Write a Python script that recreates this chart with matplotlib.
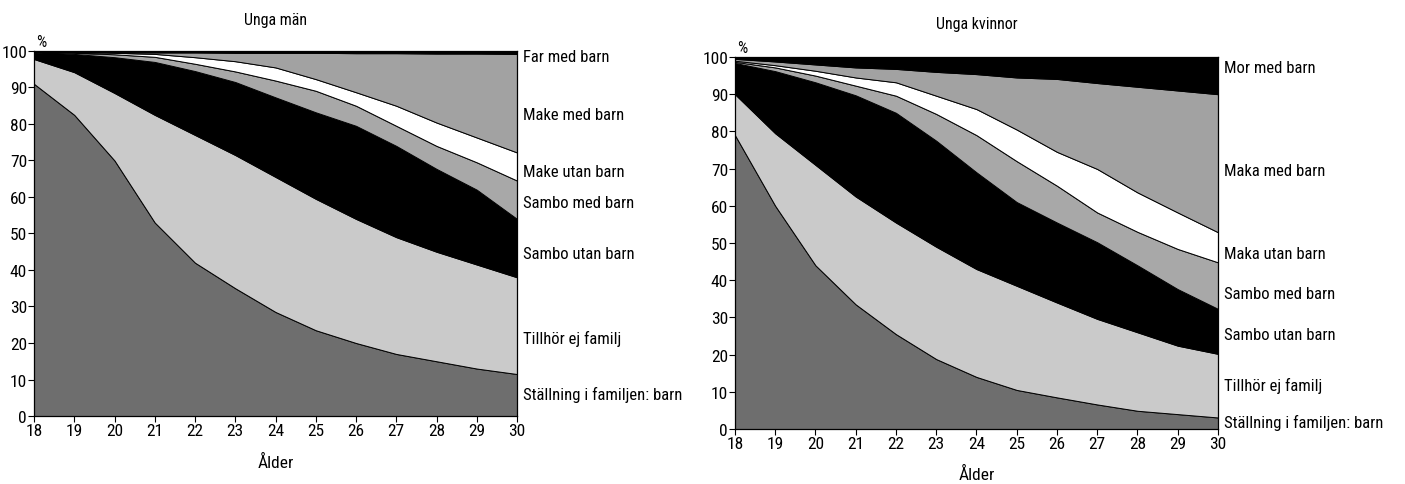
import numpy as np
import matplotlib
matplotlib.use('Agg')
import matplotlib.pyplot as plt
from matplotlib import font_manager

# pick a narrow font if one is there
names = {f.name for f in font_manager.fontManager.ttflist}
for cand in ['Liberation Sans Narrow', 'Roboto Condensed', 'Open Sans Condensed', 'DejaVu Sans']:
    if cand in names:
        FONT = cand
        break
plt.rcParams['font.family'] = [FONT, 'DejaVu Sans']
if FONT == 'DejaVu Sans':
    plt.rcParams['font.stretch'] = 'condensed'

ages = list(range(18, 31))
age_ticks = list(range(18, 31))
pct_ticks = list(range(0, 101, 10))

# Unga män, share in % per age (bottom layer first)
men_barn     = [91.0, 82.5, 70.0, 53.0, 42.0, 35.0, 28.5, 23.5, 20.0, 17.0, 15.0, 13.0, 11.5]
men_tillhor  = [6.8, 11.7, 18.5, 29.5, 35.0, 36.5, 37.0, 36.0, 34.0, 32.0, 30.0, 28.5, 26.5]
men_sambo_u  = [1.8, 5.0, 9.8, 14.5, 17.5, 20.0, 21.8, 23.7, 25.5, 25.0, 22.7, 20.5, 16.0]
men_sambo_m  = [0.1, 0.3, 0.8, 1.4, 2.0, 2.9, 4.6, 5.9, 5.5, 5.5, 6.3, 7.5, 10.5]
men_make_u   = [0.1, 0.2, 0.4, 0.8, 1.8, 2.8, 3.6, 3.2, 3.7, 5.5, 6.4, 6.8, 7.7]
men_make_m   = [0.0, 0.1, 0.2, 0.4, 1.3, 2.3, 4.0, 7.2, 10.7, 14.4, 18.9, 23.0, 27.0]
men_far      = [0.2, 0.2, 0.3, 0.4, 0.4, 0.5, 0.5, 0.5, 0.6, 0.6, 0.7, 0.7, 0.8]

# Unga kvinnor
wom_barn     = [79.0, 60.0, 44.0, 33.5, 25.5, 18.8, 14.0, 10.5, 8.5, 6.6, 4.9, 4.0, 3.1]
wom_tillhor  = [11.0, 19.5, 27.0, 29.0, 30.0, 30.2, 29.0, 28.0, 25.5, 23.0, 21.1, 18.4, 17.1]
wom_sambo_u  = [8.4, 16.7, 22.2, 27.2, 29.5, 28.5, 26.0, 22.5, 21.5, 20.6, 18.0, 15.2, 12.1]
wom_sambo_m  = [0.3, 1.0, 1.8, 2.6, 4.6, 7.2, 10.0, 11.0, 9.9, 8.0, 9.0, 10.8, 12.5]
wom_maka_u   = [0.3, 0.6, 1.3, 2.2, 3.6, 4.9, 7.0, 8.5, 9.1, 11.7, 10.6, 9.8, 8.1]
wom_maka_m   = [0.5, 1.0, 1.7, 2.7, 3.6, 6.4, 9.4, 14.0, 19.6, 23.1, 28.4, 32.8, 37.1]
wom_mor      = [0.5, 1.2, 2.0, 2.8, 3.2, 4.0, 4.6, 5.5, 5.9, 7.0, 8.0, 9.0, 10.0]

men_labels = ['Ställning i familjen: barn', 'Tillhör ej familj', 'Sambo utan barn',
              'Sambo med barn', 'Make utan barn', 'Make med barn', 'Far med barn']
wom_labels = ['Ställning i familjen: barn', 'Tillhör ej familj', 'Sambo utan barn',
              'Sambo med barn', 'Maka utan barn', 'Maka med barn', 'Mor med barn']
men_label_y = [6.0, 21.4, 44.4, 58.6, 67.0, 82.7, 98.4]
wom_label_y = [1.9, 11.8, 25.5, 36.3, 47.3, 69.4, 97.3]

colors = ['#6e6e6e', '#cacaca', 'black', '#a8a8a8', 'white', '#a2a2a2', 'black']

fig = plt.figure(figsize=(14.05, 4.85), dpi=100)
ax1 = fig.add_axes([0.0242, 0.1402, 0.3438, 0.7526])
ax2 = fig.add_axes([0.5231, 0.1134, 0.3438, 0.7670])


def draw_panel(ax, layers, labels, label_y):
    ax.stackplot(ages, *layers, colors=colors, edgecolor='black', linewidth=0.7)
    ax.set_xlim(18, 30)
    ax.set_ylim(0, 100)
    ax.set_xticks(age_ticks)
    ax.set_yticks(pct_ticks)
    ax.tick_params(labelsize=12.5, length=4, width=0.8, pad=1)
    for s in ax.spines.values():
        s.set_linewidth(0.9)
    ax.text(0.005, 1.005, '%', transform=ax.transAxes, fontsize=11.5, va='bottom')
    for lab, y in zip(labels, label_y):
        ax.text(30.15, y, lab, fontsize=12, va='center', ha='left', clip_on=False)


draw_panel(ax1, [men_barn, men_tillhor, men_sambo_u, men_sambo_m, men_make_u, men_make_m, men_far],
           men_labels, men_label_y)
draw_panel(ax2, [wom_barn, wom_tillhor, wom_sambo_u, wom_sambo_m, wom_maka_u, wom_maka_m, wom_mor],
           wom_labels, wom_label_y)

fig.text(276 / 1405, 1 - 20 / 485, 'Unga män', ha='center', va='center', fontsize=11.5)
fig.text(977 / 1405, 1 - 25 / 485, 'Unga kvinnor', ha='center', va='center', fontsize=11.5)
fig.text(276 / 1405, 1 - 463 / 485, 'Ålder', ha='center', va='center', fontsize=12.5)
fig.text(977 / 1405, 1 - 475 / 485, 'Ålder', ha='center', va='center', fontsize=12.5)

fig.savefig('out.png', dpi=100)
